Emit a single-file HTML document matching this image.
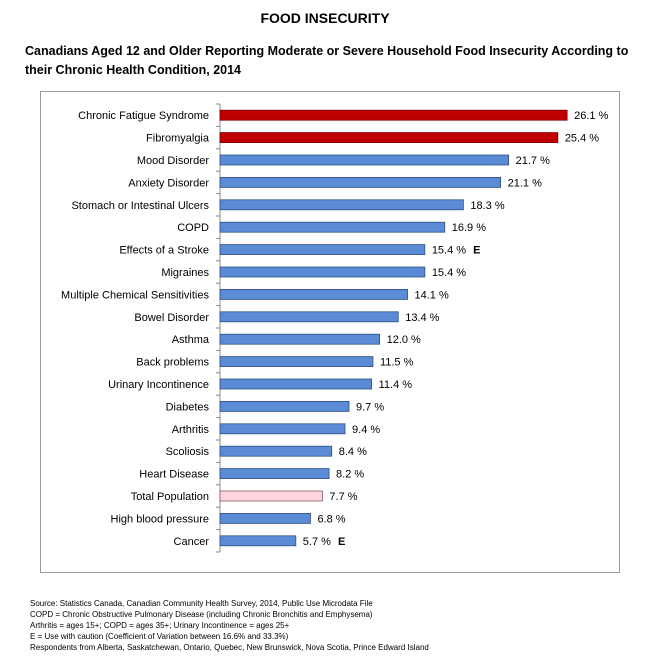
<!DOCTYPE html>
<html><head><meta charset="utf-8"><style>
body{margin:0;background:#fff;font-family:"Liberation Sans",sans-serif;}
#wrap{position:relative;width:650px;height:665px;overflow:hidden;}
.t{position:absolute;white-space:nowrap;color:#000;}
</style></head><body>
<div id="wrap">
<div class="t" style="left:0;width:650px;text-align:center;top:10px;font-size:14px;font-weight:bold;">FOOD INSECURITY</div>
<div class="t" style="left:25px;top:42px;font-size:12.5px;font-weight:bold;line-height:19px;">Canadians Aged 12 and Older Reporting Moderate or Severe Household Food Insecurity According to<br>their Chronic Health Condition, 2014</div>
<svg id="chart" width="650" height="665" style="position:absolute;left:0;top:0" font-family="Liberation Sans, sans-serif"></svg>
<div class="t" style="left:30px;top:598px;font-size:8px;line-height:11px;">Source: Statistics Canada, Canadian Community Health Survey, 2014, Public Use Microdata File<br>COPD = Chronic Obstructive Pulmonary Disease (including Chronic Bronchitis and Emphysema)<br>Arthritis = ages 15+; COPD = ages 35+; Urinary Incontinence = ages 25+<br>E = Use with caution (Coefficient of Variation between 16.6% and 33.3%)<br>Respondents from Alberta, Saskatchewan, Ontario, Quebec, New Brunswick, Nova Scotia, Prince Edward Island</div>
</div>
<script>
const categories=["Chronic Fatigue Syndrome","Fibromyalgia","Mood Disorder","Anxiety Disorder","Stomach or Intestinal Ulcers","COPD","Effects of a Stroke","Migraines","Multiple Chemical Sensitivities","Bowel Disorder","Asthma","Back problems","Urinary Incontinence","Diabetes","Arthritis","Scoliosis","Heart Disease","Total Population","High blood pressure","Cancer"];
const values=[26.1,25.4,21.7,21.1,18.3,16.9,15.4,15.4,14.1,13.4,12.0,11.5,11.4,9.7,9.4,8.4,8.2,7.7,6.8,5.7];
const flags=["","","","","","","E","","","","","","","","","","","","","E"];
const groups=["high","high","","","","","","","","","","","","","","","","total","",""];
const svg=document.getElementById('chart');
const NS='http://www.w3.org/2000/svg';
const x0=220, scale=13.3, yTop=104, band=22.4;
const x=v=>x0+v*scale;
const yc=i=>yTop+band*(i+0.5);
function mk(tag,attrs,parent){const e=document.createElementNS(NS,tag);for(const k in attrs)e.setAttribute(k,attrs[k]);(parent||svg).appendChild(e);return e;}
const frame=mk('rect',{x:40.5,y:91.5,width:579,height:481,fill:'none',stroke:'#999','stroke-width':1});


const axis=mk('line',{x1:x0,y1:yTop,x2:x0,y2:yTop+band*categories.length,stroke:'#888'});


for(let i=0;i<=categories.length;i++){
  const tk=mk('line',{x1:x0-4,x2:x0,y1:yTop+band*i,y2:yTop+band*i,stroke:'#888'});
  
  
}
categories.forEach((c,i)=>{
  const fill=groups[i]==='high'?'#c00000':groups[i]==='total'?'#fcd5dc':'#5b8bd6';
  const stroke=groups[i]==='high'?'#7a0000':groups[i]==='total'?'#8a5a60':'#2f4f80';
  const r=mk('rect',{x:x0,y:yc(i)-5,width:x(values[i])-x0,height:10,fill:fill,stroke:stroke,'stroke-width':0.8});
  
  
  const l=mk('text',{x:x0-11,y:yc(i)+4,'text-anchor':'end','font-size':11});
  l.textContent=c;
  
  
  const v=mk('text',{x:x(values[i])+7,y:yc(i)+4,'font-size':11});
  
  
  const s1=mk('tspan',{},v);
  s1.textContent=values[i].toFixed(1)+' %';
  if(flags[i]){
    const s2=mk('tspan',{dx:7,'font-weight':'bold'},v);
    s2.textContent=flags[i];
  }
});
</script>
</body></html>
